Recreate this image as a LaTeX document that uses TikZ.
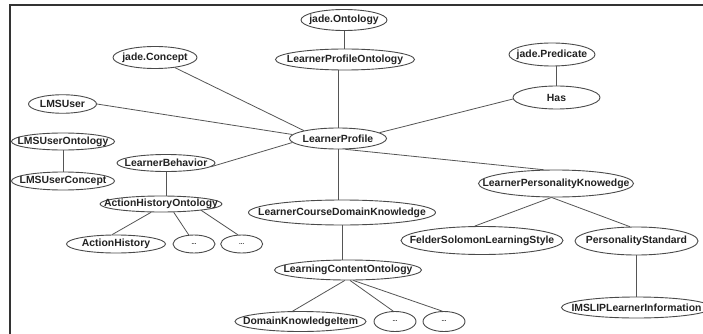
\documentclass[tikz,border=0pt]{standalone}
\usepackage{fontspec}
\setmainfont{Liberation Sans}
\usetikzlibrary{shapes.geometric}
\definecolor{linegray}{HTML}{555555}
\definecolor{ovgray}{HTML}{4A4A4A}
\definecolor{txtgray}{HTML}{222222}
\newcommand\ovt[1]{\makebox[0pt]{#1}}
\tikzset{
  ov/.style 2 args={ellipse, draw=ovgray, line width=0.9pt, inner sep=0pt,
    minimum width=#1pt, minimum height=#2pt, text=txtgray,
    font=\bfseries\fontsize{10.4}{12}\selectfont},
  dots/.style={font=\bfseries\fontsize{6}{7}\selectfont},
  conn/.style={draw=linegray, line width=0.8pt},
  frame/.style={draw=black!80, line width=1.2pt}
}
\begin{document}
\begin{tikzpicture}[x=1pt, y=-1pt]
\useasboundingbox (0,0) rectangle (703,334);
\clip (0,0) rectangle (703,334);
\fill[white] (0,0) rectangle (703,334);
\coordinate (fbl) at (10,334);
\coordinate (ftl) at (10,5);
\coordinate (ftr) at (703,5);
\draw[frame] (fbl) -- (ftl) -- (ftr);

% nodes
\node[ov={86}{21}] (jo) at (344,20) {\ovt{jade.Ontology}};
\node[ov={139}{21}] (lpo) at (345,59.5) {\ovt{LearnerProfileOntology}};
\node[ov={84}{22}] (jc) at (155,57.5) {\ovt{jade.Concept}};
\node[ov={86}{23}] (jp) at (552,54.5) {\ovt{jade.Predicate}};
\node[ov={87}{23}] (has) at (556.5,97.5) {\ovt{Has}};
\node[ov={68}{18.5}] (lmsu) at (62.5,104) {\ovt{LMSUser}};
\node[ov={97}{21}] (lp) at (338,138.5) {\ovt{LearnerProfile}};
\node[ov={103}{17}] (lmsuo) at (63,141.5) {\ovt{LMSUserOntology}};
\node[ov={103}{18}] (lmsuc) at (63,181) {\ovt{LMSUserConcept}};
\node[ov={98}{17}] (lb) at (166,163) {\ovt{LearnerBehavior}};
\node[ov={155}{27}] (lpk) at (556,183.5) {\ovt{LearnerPersonalityKnowedge}};
\node[ov={122}{16}] (aho) at (161,204) {\ovt{ActionHistoryOntology}};
\node[ov={187}{25}] (lcdk) at (342,212.5) {\ovt{LearnerCourseDomainKnowledge}};
\node[ov={162}{28}] (fs) at (482,240.5) {\ovt{FelderSolomonLearningStyle}};
\node[ov={123}{28}] (ps) at (636.5,241) {\ovt{PersonalityStandard}};
\node[ov={99}{18}] (ah) at (116,244) {\ovt{ActionHistory}};
\node[ov={42}{18}, dots] (d1) at (194,244) {\ovt{...}};
\node[ov={42}{18}, dots] (d2) at (241.7,244) {\ovt{...}};
\node[ov={147}{20}] (lco) at (348,270) {\ovt{LearningContentOntology}};
\node[ov={150}{21}] (ims) at (636.5,307.5) {\ovt{IMSLIPLearnerInformation}};
\node[ov={131}{20}] (dki) at (300.5,321.5) {\ovt{DomainKnowledgeItem}};
\node[ov={42}{20}, dots] (d3) at (395,321.5) {\ovt{...}};
\node[ov={42}{20}, dots] (d4) at (444,321.5) {\ovt{...}};

% connectors
\draw[conn] (jo.south) -- (jo.south |- lpo.north);
\draw[conn] (lp.north) -- (lp.north |- lpo.south);
\draw[conn] (jc.-27) -- (lp.167);
\draw[conn] (lmsu.0) -- (lp.175);
\draw[conn] (lb.-5) -- (lp.185);
\draw[conn] (lp.8) -- (has.182);
\draw[conn] (lp.-56) -- (lpk.132);
\draw[conn] (lp.south) -- (lp.south |- lcdk.north);
\draw[conn] (has.north) -- (has.north |- jp.south);
\draw[conn] (lmsuo.south) -- (lmsuc.north);
\draw[conn] (lb.south) -- (lb.south |- aho.north);
\draw[conn] (aho.-140) -- (ah.112);
\draw[conn] (aho.-33) -- (d1.120);
\draw[conn] (aho.-9) -- (d2.113);
\draw[conn] (lcdk.south) -- (lcdk.south |- lco.north);
\draw[conn] (lco.-107) -- (dki.127);
\draw[conn] (lco.-79) -- (d3.100);
\draw[conn] (lco.-63) -- (d4.100);
\draw[conn] (lpk.-108) -- (fs.117);
\draw[conn] (lpk.-108) -- (ps.115);
\draw[conn] (ps.south) -- (ims.north);
\end{tikzpicture}
\end{document}
